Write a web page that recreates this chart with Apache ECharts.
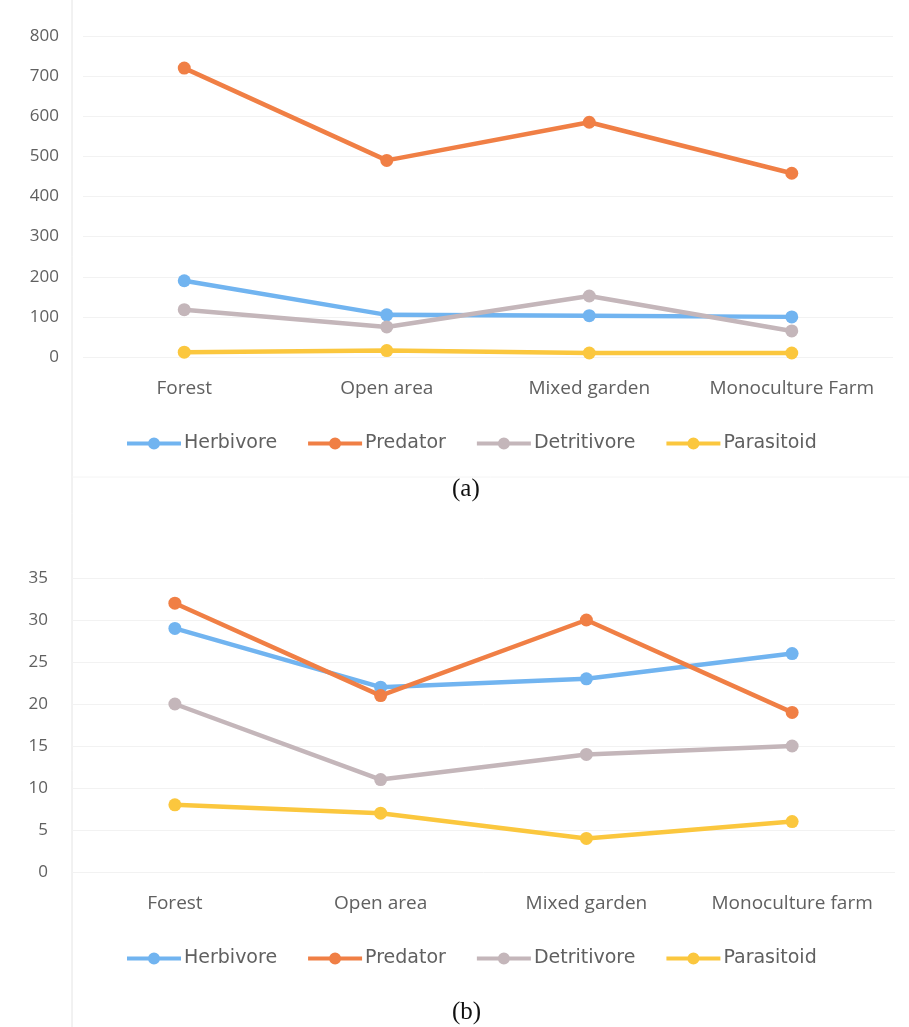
<!DOCTYPE html>
<html><head><meta charset="utf-8">
<script src="https://cdn.jsdelivr.net/npm/echarts@6/dist/echarts.min.js"></script>
<style>html,body{margin:0;padding:0;background:#fff}#c{width:909px;height:1027px}</style>
</head><body><div id="c"></div>
<script>
var categoriesA = ['Forest', 'Open area', 'Mixed garden', 'Monoculture Farm'];
var categoriesB = ['Forest', 'Open area', 'Mixed garden', 'Monoculture farm'];
var seriesNames = ['Herbivore', 'Predator', 'Detritivore', 'Parasitoid'];
var herbivoreA = [190, 105, 103, 100];
var predatorA = [720, 490, 585, 458];
var detritivoreA = [118, 75, 152, 65];
var parasitoidA = [12, 16, 10, 10];
var herbivoreB = [29, 22, 23, 26];
var predatorB = [32, 21, 30, 19];
var detritivoreB = [20, 11, 14, 15];
var parasitoidB = [8, 7, 4, 6];

var colors = ['#71b4f0', '#f07f45', '#c4b6ba', '#fbc73e'];
var axisFont = '"Open Sans", "Noto Sans", sans-serif';
var legendFont = '"DejaVu Sans", Verdana, sans-serif';
var txt = '#606060';

function mkSeries(name, data, idx, color) {
  return {
    name: name, type: 'line', data: data, xAxisIndex: idx, yAxisIndex: idx,
    symbol: 'circle', symbolSize: 13,
    lineStyle: { width: 4.5, color: color },
    itemStyle: { color: color },
    emphasis: { disabled: true }
  };
}
var dataA = [herbivoreA, predatorA, detritivoreA, parasitoidA];
var dataB = [herbivoreB, predatorB, detritivoreB, parasitoidB];
var series = [];
seriesNames.forEach(function (n, i) { series.push(mkSeries(n, dataA[i], 0, colors[i])); });
seriesNames.forEach(function (n, i) { series.push(mkSeries(n, dataB[i], 1, colors[i])); });

function xAx(cats, gi) {
  return {
    type: 'category', data: cats, gridIndex: gi, boundaryGap: true,
    axisLine: { show: false }, axisTick: { show: false },
    axisLabel: { color: txt, fontFamily: axisFont, fontSize: 19, margin: 22, interval: 0 }
  };
}
function yAx(max, interval, gi) {
  return {
    type: 'value', min: 0, max: max, interval: interval, gridIndex: gi,
    axisLine: { show: false }, axisTick: { show: false },
    splitLine: { lineStyle: { color: '#f2f2f2', width: 1 } },
    axisLabel: { color: txt, fontFamily: axisFont, fontSize: 17, margin: 24 }
  };
}
var legendIcon = 'path://M0,4 L54,4 L54,8 L0,8 Z M21,6 a6,6 0 1,1 12,0 a6,6 0 1,1 -12,0 Z';
function legendAt(top) {
  return {
    top: top, left: 122, itemWidth: 54, itemHeight: 12, itemGap: 31,
    icon: legendIcon,
    textStyle: { color: txt, fontFamily: legendFont, fontSize: 19, padding: [0, 0, 0, -2] },
    data: seriesNames
  };
}

var chart = echarts.init(document.getElementById('c'), null, { renderer: 'canvas' });
chart.setOption({
  animation: false,
  backgroundColor: '#ffffff',
  grid: [
    { left: 83, right: 16, top: 36, height: 321, containLabel: false },
    { left: 72, right: 14, top: 578, height: 294, containLabel: false }
  ],
  xAxis: [xAx(categoriesA, 0), xAx(categoriesB, 1)],
  yAxis: [yAx(800, 100, 0), yAx(35, 5, 1)],
  legend: [legendAt(429), legendAt(944)],
  series: series,
  graphic: [
    { type: 'line', shape: { x1: 72, y1: 0, x2: 72, y2: 1027 }, style: { stroke: '#e4e4e4', lineWidth: 1 } },
    { type: 'line', shape: { x1: 72, y1: 477, x2: 909, y2: 477 }, style: { stroke: '#f4f4f4', lineWidth: 1 } },
    { type: 'text', left: 452, top: 477, style: { text: '(a)', font: '25px "Liberation Serif", "DejaVu Serif", serif', fill: '#111' } },
    { type: 'text', left: 452, top: 1000, style: { text: '(b)', font: '25px "Liberation Serif", "DejaVu Serif", serif', fill: '#111' } }
  ]
});
</script></body></html>
